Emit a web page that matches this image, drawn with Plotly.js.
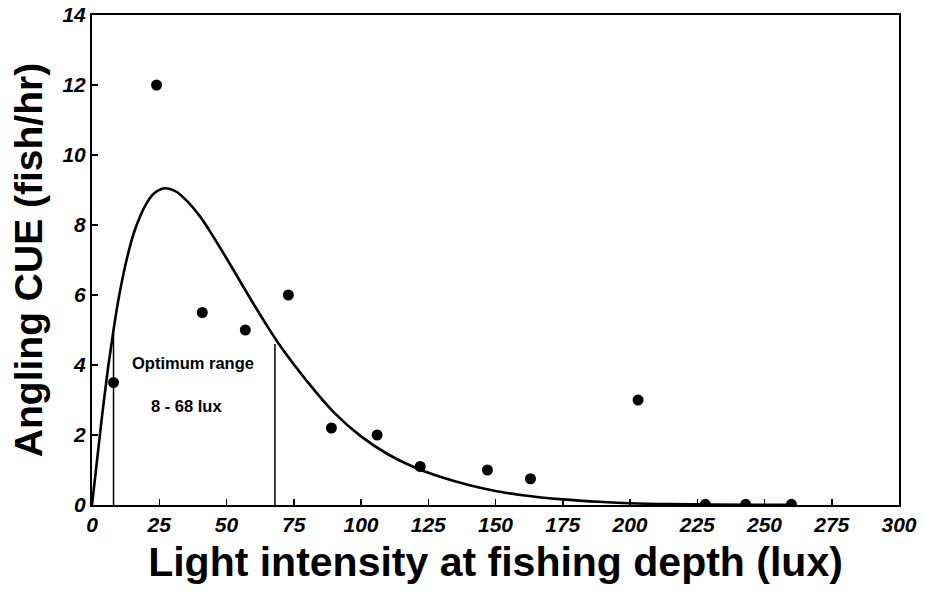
<!DOCTYPE html>
<html>
<head>
<meta charset="utf-8">
<script src="https://cdn.plot.ly/plotly-3.0.1.min.js"></script>
<style>html,body{margin:0;padding:0;background:#fff;}#chart{width:925px;height:595px;}</style>
</head>
<body>
<div id="chart"></div>
<script>
// Observed data points (light intensity in lux, angling CUE in fish/hr)
var obsLux = [8, 24, 41, 57, 73, 89, 106, 122, 147, 163, 203, 228, 243, 260];
var obsCue = [3.5, 12.0, 5.5, 5.0, 6.0, 2.2, 2.0, 1.1, 1.0, 0.75, 3.0, 0.02, 0.02, 0.02];

// Fitted curve
var curveLux = [0, 2, 4, 6, 8, 10, 13, 16, 20, 23, 27, 31, 35, 40, 45, 50, 55, 60, 65, 70, 80, 90, 100, 110, 120, 130, 140, 150, 160, 175, 190, 200, 215, 230, 245, 260];
var curveCue = [0, 1.36, 2.72, 3.94, 5.0, 5.94, 7.05, 7.87, 8.58, 8.90, 9.05, 8.97, 8.71, 8.26, 7.68, 7.05, 6.40, 5.75, 5.13, 4.54, 3.53, 2.64, 1.96, 1.45, 1.07, 0.79, 0.57, 0.40, 0.28, 0.16, 0.085, 0.05, 0.025, 0.012, 0.006, 0.003];

// Optimum range bounds
var rangeLux = [8, 68];
var rangeTop = [4.9, 4.6];

var xTicks = [0, 25, 50, 75, 100, 125, 150, 175, 200, 225, 250, 275, 300];
var yTicks = [0, 2, 4, 6, 8, 10, 12, 14];

var FONT = "Liberation Sans, Arial, Helvetica, sans-serif";

var traces = [
  {
    x: curveLux, y: curveCue, type: "scatter", mode: "lines",
    line: {color: "#000", width: 2.6, shape: "spline", smoothing: 1},
    hoverinfo: "skip", cliponaxis: true
  },
  {
    x: [rangeLux[0], rangeLux[0]], y: [0, rangeTop[0]], type: "scatter", mode: "lines",
    line: {color: "#000", width: 1.5}, hoverinfo: "skip"
  },
  {
    x: [rangeLux[1], rangeLux[1]], y: [0, rangeTop[1]], type: "scatter", mode: "lines",
    line: {color: "#000", width: 1.5}, hoverinfo: "skip"
  },
  {
    x: obsLux, y: obsCue, type: "scatter", mode: "markers",
    marker: {color: "#000", size: 11, symbol: "circle"},
    cliponaxis: true
  }
];

var axisCommon = {
  showgrid: false, zeroline: false,
  showline: true, linecolor: "#000", linewidth: 2, mirror: true,
  ticks: "inside", ticklen: 6, tickwidth: 1.5, tickcolor: "#000",
  tickfont: {family: FONT, size: 21, color: "#000", weight: "bold", style: "italic"}
};

var layout = {
  width: 925, height: 595,
  margin: {l: 92, r: 26, t: 15, b: 90},
  paper_bgcolor: "#fff", plot_bgcolor: "#fff",
  showlegend: false,
  xaxis: Object.assign({}, axisCommon, {
    range: [0, 300], tickmode: "array", tickvals: xTicks, ticktext: xTicks.map(String),
    title: {text: "Light intensity at fishing depth (lux)", font: {family: FONT, size: 41, color: "#000", weight: "bold"}, standoff: 12}
  }),
  yaxis: Object.assign({}, axisCommon, {
    range: [0, 14], tickmode: "array", tickvals: yTicks, ticktext: yTicks.map(String),
    title: {text: "Angling CUE (fish/hr)", font: {family: FONT, size: 39, color: "#000", weight: "bold"}, standoff: 8}
  }),
  annotations: [
    {x: 37.5, y: 4.06, xref: "x", yref: "y", text: "Optimum range", showarrow: false,
     font: {family: FONT, size: 16.5, color: "#000", weight: "bold"}},
    {x: 35.2, y: 2.84, xref: "x", yref: "y", text: "8 - 68 lux", showarrow: false,
     font: {family: FONT, size: 16.5, color: "#000", weight: "bold"}}
  ]
};

Plotly.newPlot("chart", traces, layout, {displayModeBar: false, staticPlot: true});
</script>
</body>
</html>
